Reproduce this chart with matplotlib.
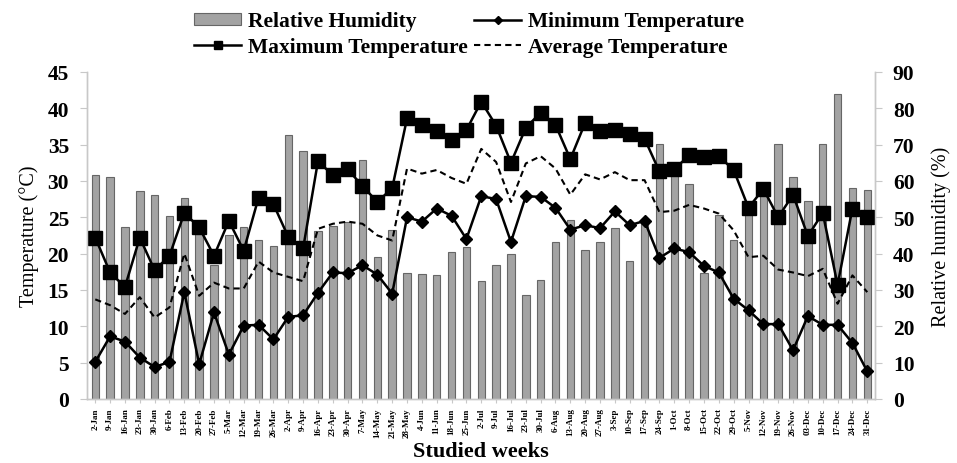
import matplotlib
matplotlib.use("Agg")
import matplotlib.pyplot as plt
import numpy as np

weeks = ["2-Jan", "9-Jan", "16-Jan", "23-Jan", "30-Jan", "6-Feb", "13-Feb", "20-Feb", "27-Feb",
         "5-Mar", "12-Mar", "19-Mar", "26-Mar", "2-Apr", "9-Apr", "16-Apr", "23-Apr", "30-Apr",
         "7-May", "14-May", "21-May", "28-May", "4-Jun", "11-Jun", "18-Jun", "25-Jun", "2-Jul",
         "9-Jul", "16-Jul", "23-Jul", "30-Jul", "6-Aug", "13-Aug", "20-Aug", "27-Aug", "3-Sep",
         "10-Sep", "17-Sep", "24-Sep", "1-Oct", "8-Oct", "15-Oct", "22-Oct", "29-Oct", "5-Nov",
         "12-Nov", "19-Nov", "26-Nov", "03-Dec", "10-Dec", "17-Dec", "24-Dec", "31-Dec"]

rel_humidity = [61.5, 61.0, 47.4, 57.1, 56.2, 50.3, 55.3, 46.3, 36.9, 45.0, 47.2, 43.6, 42.2,
                72.7, 68.1, 46.1, 47.6, 48.7, 65.8, 39.0, 46.4, 34.6, 34.3, 34.0, 40.4, 41.8,
                32.4, 36.9, 39.8, 28.5, 32.6, 43.3, 49.2, 41.0, 43.3, 47.1, 38.0, 49.6, 70.1,
                62.4, 59.1, 34.6, 50.5, 43.8, 51.9, 57.0, 70.1, 61.2, 54.6, 70.1, 84.0, 58.0, 57.4]

max_temp = [22.2, 17.4, 15.4, 22.2, 17.7, 19.7, 25.6, 23.6, 19.7, 24.5, 20.4, 27.7, 26.8,
            22.3, 20.7, 32.7, 30.8, 31.6, 29.3, 27.1, 29.0, 38.6, 37.7, 36.8, 35.6, 37.0,
            40.9, 37.6, 32.5, 37.3, 39.4, 37.7, 33.0, 38.0, 36.8, 37.0, 36.4, 35.8, 31.3,
            31.6, 33.5, 33.3, 33.4, 31.5, 26.3, 28.9, 25.0, 28.1, 22.4, 25.6, 15.7, 26.2, 25.0]

min_temp = [5.1, 8.6, 7.9, 5.7, 4.4, 5.1, 14.7, 4.8, 11.9, 6.1, 10.1, 10.2, 8.2, 11.3, 11.5,
            14.6, 17.4, 17.3, 18.4, 17.1, 14.5, 25.0, 24.4, 26.2, 25.2, 22.0, 27.9, 27.5,
            21.6, 27.9, 27.8, 26.3, 23.3, 23.9, 23.5, 25.8, 23.9, 24.5, 19.4, 20.7, 20.2,
            18.3, 17.4, 13.8, 12.2, 10.3, 10.3, 6.7, 11.4, 10.2, 10.2, 7.7, 3.8]

avg_temp = [13.7, 12.9, 11.7, 14.0, 11.2, 12.6, 20.0, 14.2, 16.0, 15.2, 15.2, 18.9, 17.4,
            16.8, 16.2, 23.4, 24.1, 24.4, 24.1, 22.5, 21.8, 31.7, 31.0, 31.5, 30.4, 29.6,
            34.4, 32.6, 27.1, 32.4, 33.4, 31.7, 28.1, 30.9, 30.2, 31.2, 30.1, 30.1, 25.7,
            25.9, 26.7, 26.2, 25.5, 23.2, 19.5, 19.7, 17.8, 17.4, 16.9, 17.9, 13.1, 17.0, 14.7]

plt.rcParams['font.family'] = ['Liberation Serif', 'DejaVu Serif']

fig = plt.figure(figsize=(9.57, 4.64), dpi=100)
ax = fig.add_axes([0.091, 0.138, 0.823, 0.705])
ax2 = ax.twinx()

x = np.arange(len(weeks))
bars = ax2.bar(x, rel_humidity, width=0.5, color='#a3a3a3', edgecolor='#666666',
               linewidth=0.8, label='Relative Humidity')
ax.set_zorder(ax2.get_zorder() + 1)
ax.patch.set_visible(False)

l_min, = ax.plot(x, min_temp, color='black', lw=1.8, marker='D', markersize=6.5,
                 label='Minimum Temperature')
l_max, = ax.plot(x, max_temp, color='black', lw=1.8, marker='s', markersize=9.5,
                 label='Maximum Temperature')
l_avg, = ax.plot(x, avg_temp, color='black', lw=1.5, ls=(0, (3, 2)),
                 label='Average Temperature')

ax.set_xlim(-0.55, 52.5)
ax.set_ylim(0, 45)
ax2.set_ylim(0, 90)
ax.set_yticks(np.arange(0, 46, 5))
ax2.set_yticks(np.arange(0, 91, 10))
ax.set_xticks(x)
ax.set_xticklabels(weeks, rotation=90, fontsize=6.5, fontweight='bold')

for a in (ax, ax2):
    a.spines['top'].set_visible(False)
    for s in ('left', 'right', 'bottom'):
        a.spines[s].set_color('#c8c8c8')
        a.spines[s].set_linewidth(1.0)
    a.tick_params(axis='y', colors='#c8c8c8', labelcolor='black', labelsize=15.5,
                  length=5, pad=8)
    for lab in a.get_yticklabels():
        lab.set_fontweight('bold')
ax.tick_params(axis='x', colors='#c8c8c8', labelcolor='black', length=3, pad=3)

ax.set_ylabel('Temperature (°C)', fontsize=14.5, labelpad=6)
ax2.set_ylabel('Relative humidity (%)', fontsize=14.5, labelpad=12)
ax.set_xlabel('Studied weeks', fontsize=16, fontweight='bold', labelpad=3)

fig.legend(handles=[bars, l_max, l_min, l_avg],
           labels=['Relative Humidity', 'Maximum Temperature', 'Minimum Temperature',
                   'Average Temperature'],
           loc='upper center', bbox_to_anchor=(0.49, 1.015), ncol=2, frameon=False,
           prop={'weight': 'bold', 'size': 15.5}, handlelength=2.2, handleheight=0.5,
           handletextpad=0.3, columnspacing=0.3, labelspacing=0.25, markerscale=0.6)

fig.savefig('out.png', dpi=100)
